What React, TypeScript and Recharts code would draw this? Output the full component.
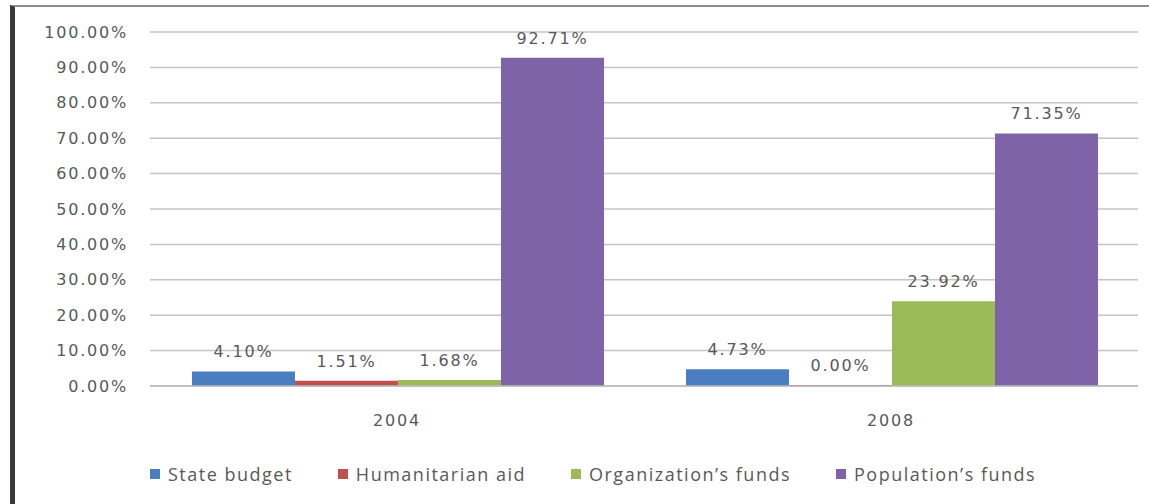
import { BarChart, Bar, XAxis, YAxis, CartesianGrid, LabelList } from "recharts";

const years = ["2004", "2008"];
const stateBudget = [4.1, 4.73];
const humanitarianAid = [1.51, 0.0];
const organizationFunds = [1.68, 23.92];
const populationFunds = [92.71, 71.35];
const yTicks = [0, 10, 20, 30, 40, 50, 60, 70, 80, 90, 100];

const series = [
  { key: "state", name: "State budget", color: "#4a7ec0", values: stateBudget },
  { key: "aid", name: "Humanitarian aid", color: "#c0504d", values: humanitarianAid },
  { key: "org", name: "Organization\u2019s funds", color: "#9bbb59", values: organizationFunds },
  { key: "pop", name: "Population\u2019s funds", color: "#7f63a8", values: populationFunds },
];

const data = years.map((year, i) => {
  const row: Record<string, string | number> = { year };
  series.forEach((s) => {
    row[s.key] = s.values[i];
  });
  return row;
});

const textGray = "#595959";
const tickFont = {
  fontFamily: "DejaVu Sans",
  fontSize: 16,
  letterSpacing: 1.8,
  fill: textGray,
};

export default function App() {
  return (
    <div style={{ position: "fixed", left: 0, top: 0, width: 1149, height: 504, background: "#fff" }}>
      <div style={{ position: "absolute", left: 0, top: 0 }}>
        <BarChart
          width={1149}
          height={504}
          data={data}
          margin={{ top: 32, right: 11, left: 0, bottom: 0 }}
          barCategoryGap="8.5%"
          barGap={0}
        >
          <CartesianGrid vertical={false} stroke="#c4c4c4" strokeWidth={1.5} />
          <XAxis
            dataKey="year"
            height={118}
            tickSize={0}
            tickMargin={29}
            tickLine={false}
            axisLine={{ stroke: "#bdbdbd", strokeWidth: 1.5 }}
            tick={tickFont}
          />
          <YAxis
            width={150}
            domain={[0, 100]}
            ticks={yTicks}
            interval={0}
            tickSize={0}
            tickMargin={22}
            axisLine={false}
            tickLine={false}
            tick={tickFont}
            tickFormatter={(v: number) => `${v.toFixed(2)}%`}
          />
          {series.map((s) => (
            <Bar
              key={s.key}
              dataKey={s.key}
              name={s.name}
              fill={s.color}
              minPointSize={1}
              isAnimationActive={false}
            >
              <LabelList
                dataKey={s.key}
                position="top"
                offset={14}
                style={tickFont}
                formatter={(v: number) => `${Number(v).toFixed(2)}%`}
              />
            </Bar>
          ))}
        </BarChart>
      </div>
      {/* legend */}
      <div
        style={{
          position: "absolute",
          left: 150,
          top: 462,
          display: "flex",
          alignItems: "center",
          gap: 45,
          fontFamily: "Open Sans",
          fontSize: 18,
          letterSpacing: 1.5,
          color: textGray,
          lineHeight: "24px",
        }}
      >
        {series.map((s) => (
          <div key={s.key} style={{ display: "flex", alignItems: "center" }}>
            <span style={{ width: 10, height: 10, background: s.color, marginRight: 8, display: "inline-block" }} />
            <span>{s.name}</span>
          </div>
        ))}
      </div>
      {/* frame: thick left edge, thin top edge */}
      <div
        style={{
          position: "absolute",
          left: 10,
          top: 5,
          width: 1134,
          height: 499,
          borderLeft: "5px solid #3a3a3a",
          borderTop: "2px solid #8c8c8c",
          pointerEvents: "none",
        }}
      />
    </div>
  );
}
